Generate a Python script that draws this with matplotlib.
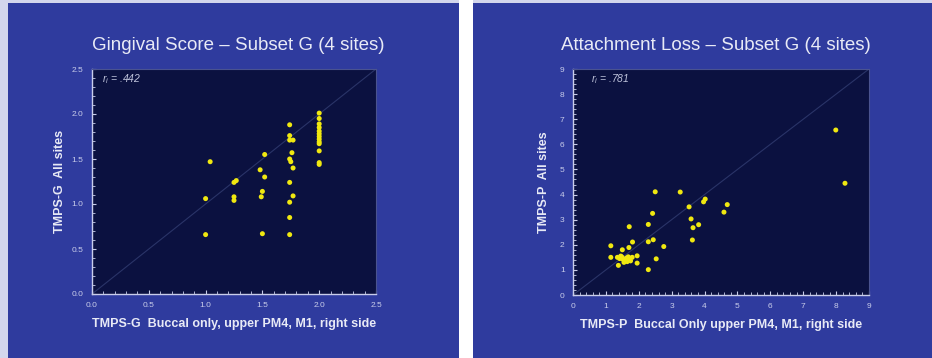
import matplotlib
matplotlib.use("Agg")
import matplotlib.pyplot as plt
from matplotlib.patches import Rectangle
from matplotlib.ticker import MultipleLocator, FormatStrFormatter

# Gingival score: buccal-only vs all-sites (Subset G)
ging_buccal = [1.04, 1.00, 1.00, 1.25, 1.27, 1.25, 1.25,
               1.52, 1.48, 1.52, 1.50, 1.49, 1.50,
               1.74, 1.74, 1.74, 1.77, 1.76, 1.74, 1.75, 1.77, 1.74, 1.77, 1.74, 1.74, 1.74,
               2.00, 2.00, 2.00, 2.00, 2.00, 2.00, 2.00, 2.00, 2.00, 2.00, 2.00, 2.00, 2.00]
ging_all = [1.47, 1.06, 0.66, 1.24, 1.26, 1.08, 1.04,
            1.55, 1.38, 1.30, 1.14, 1.08, 0.67,
            1.88, 1.76, 1.71, 1.71, 1.57, 1.50, 1.47, 1.40, 1.24, 1.09, 1.02, 0.85, 0.66,
            2.01, 1.95, 1.89, 1.85, 1.81, 1.78, 1.75, 1.72, 1.69, 1.67, 1.59, 1.46, 1.44]

# Attachment loss: buccal-only vs all-sites (Subset G)
att_buccal = [7.99, 8.27, 2.50, 3.26, 3.53, 3.97, 4.02, 4.69, 4.59, 3.59, 3.65, 3.82, 3.63,
              2.42, 2.29, 2.29, 2.44, 2.76, 2.53, 2.29,
              1.71, 1.81, 1.70, 1.15, 1.15, 1.50, 1.38, 1.95, 1.95,
              1.35, 1.42, 1.48, 1.52, 1.58, 1.62, 1.65, 1.70, 1.75, 1.80, 1.45, 1.55, 1.68]
att_all = [6.57, 4.45, 4.11, 4.10, 3.51, 3.71, 3.82, 3.60, 3.30, 3.03, 2.68, 2.80, 2.19,
           3.25, 2.81, 2.12, 2.20, 1.93, 1.44, 1.01,
           2.72, 2.11, 1.89, 1.96, 1.50, 1.80, 1.18, 1.27, 1.56,
           1.50, 1.45, 1.52, 1.42, 1.38, 1.47, 1.33, 1.40, 1.36, 1.50, 1.55, 1.30, 1.52]

titles = ["Gingival Score \u2013 Subset G (4 sites)", "Attachment Loss \u2013 Subset G (4 sites)"]
xlabels = ["TMPS-G  Buccal only, upper PM4, M1, right side",
           "TMPS-P  Buccal Only upper PM4, M1, right side"]
ylabels = ["TMPS-G  All sites", "TMPS-P  All sites"]
r_texts = ["$r_i$ = .442", "$r_i$ = .781"]

W, H = 932, 358
PAGE = "#D3D6EC"
PANEL = "#2F3B9E"
FACE = "#0B1140"
YELLOW = "#F0E810"
TICKC = "#C9CDEA"
LABELC = "#E8EAF6"

plt.rcParams['font.family'] = ['Liberation Sans', 'DejaVu Sans']
plt.rcParams['mathtext.fontset'] = 'custom'
plt.rcParams['mathtext.it'] = 'Liberation Sans:italic'

fig = plt.figure(figsize=(W / 100, H / 100), dpi=100, facecolor=PAGE)

# slide panels, kept behind the axes
for x0, x1, col, top in ((8, 459, PANEL, 3), (459, 473, "white", 0), (473, W, PANEL, 3)):
    fig.patches.append(Rectangle((x0 / W, 0), (x1 - x0) / W, (H - top) / H,
                                 transform=fig.transFigure, facecolor=col,
                                 edgecolor="none", zorder=-10))


def px_axes(x0, x1, y0, y1):
    return fig.add_axes([x0 / W, (H - y1) / H, (x1 - x0) / W, (y1 - y0) / H])


def style(ax, lim, major, minor, fmt, title, xlabel, ylabel, ypad, rtxt, rx, title_cx):
    ax.set_facecolor(FACE)
    ax.set_xlim(0, lim)
    ax.set_ylim(0, lim)
    ax.plot([0, lim], [0, lim], color="#2A3468", lw=0.8, zorder=1)
    ax.xaxis.set_major_locator(MultipleLocator(major))
    ax.yaxis.set_major_locator(MultipleLocator(major))
    ax.xaxis.set_minor_locator(MultipleLocator(minor))
    ax.yaxis.set_minor_locator(MultipleLocator(minor))
    ax.xaxis.set_major_formatter(FormatStrFormatter(fmt))
    ax.yaxis.set_major_formatter(FormatStrFormatter(fmt))
    ax.tick_params(which="both", direction="in", colors=TICKC, labelsize=6)
    ax.tick_params(which="major", length=3, width=0.8, pad=6)
    ax.tick_params(which="minor", length=2, width=0.6)
    ax.tick_params(top=False, right=False, which="both")
    for s in ("left", "bottom"):
        ax.spines[s].set_color(TICKC)
        ax.spines[s].set_linewidth(1.0)
    for s in ("top", "right"):
        ax.spines[s].set_color("#4A5390")
        ax.spines[s].set_linewidth(0.8)
    ax.set_xlabel(xlabel, color=LABELC, fontsize=9, fontweight="bold", labelpad=6)
    ax.set_ylabel(ylabel, color=LABELC, fontsize=9, fontweight="bold", labelpad=ypad)
    ax.text(rx, 0.955, rtxt, transform=ax.transAxes, color="#C0C4DC",
            fontsize=7.5, style="italic", va="center", ha="left")
    fig.text(title_cx / W, 1 - 45 / H, title, color=LABELC, fontsize=13.5,
             ha="center", va="center")


ax1 = px_axes(92, 376, 69, 294)
ax1.scatter(ging_buccal, ging_all, s=13, color=YELLOW, edgecolors="none", zorder=3)
style(ax1, 2.5, 0.5, 0.1, "%.1f", titles[0], xlabels[0], ylabels[0], 4,
      r_texts[0], 0.035, 238)

ax2 = px_axes(573, 869, 69, 295)
ax2.scatter(att_buccal, att_all, s=13, color=YELLOW, edgecolors="none", zorder=3)
style(ax2, 9, 1, 0.2, "%d", titles[1], xlabels[1], ylabels[1], 7,
      r_texts[1], 0.06, 716)

fig.savefig("out.png", dpi=100, facecolor=PAGE)
